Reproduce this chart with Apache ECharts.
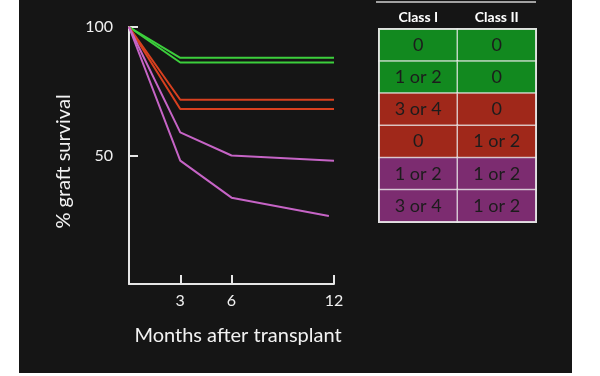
<!DOCTYPE html>
<html>
<head>
<meta charset="utf-8">
<script src="https://cdn.jsdelivr.net/npm/echarts@6/dist/echarts.min.js"></script>
<style>
html,body{margin:0;padding:0;background:#fff;width:600px;height:376px;overflow:hidden;}
#c{position:absolute;left:19px;top:0;width:553px;height:373px;}
</style>
</head>
<body>
<div id="c"></div>
<script>
// ---- data ----
const months = [0, 3, 6, 12];
const greenUpper = [100, 88, 88, 88];
const greenLower = [100, 86.2, 86.2, 86.2];
const redUpper = [100, 71.7, 71.7, 71.7];
const redLower = [100, 68.1, 68.1, 68.1];
const purpleUpper = [100, 59, 50, 48];
const purpleLowerMonths = [0, 3, 6, 11.7];
const purpleLower = [100, 48, 33.6, 26.5];
const xTicks = [3, 6, 12];
const yTicks = [50, 100];

const tableCols = ['Class I', 'Class II'];
const classI = ['0', '1 or 2', '3 or 4', '0', '1 or 2', '3 or 4'];
const classII = ['0', '0', '0', '1 or 2', '1 or 2', '1 or 2'];
const rowGroup = [0, 0, 1, 1, 2, 2]; // 0 green, 1 red, 2 purple

const lineColors = ['#3ccf3c', '#d8401f', '#c664c6'];
const cellColors = ['#12891f', '#a0281a', '#7c2c70'];

function pairs(xs, ys) { return xs.map((x, i) => [x, ys[i]]); }

const lineSeries = [
  [months, greenUpper, 0], [months, greenLower, 0],
  [months, redUpper, 1], [months, redLower, 1],
  [months, purpleUpper, 2], [purpleLowerMonths, purpleLower, 2]
].map(([xs, ys, g]) => ({
  type: 'line', xAxisIndex: 0, yAxisIndex: 0,
  data: pairs(xs, ys), symbol: 'none',
  lineStyle: { color: lineColors[g], width: 2 },
  silent: true, animation: false
}));

const cellData = [];
for (let r = 0; r < classI.length; r++) {
  cellData.push({ value: [0, r, rowGroup[r]], text: classI[r] });
  cellData.push({ value: [1, r, rowGroup[r]], text: classII[r] });
}

const font = 'Lato, "Open Sans", sans-serif';
const chart = echarts.init(document.getElementById('c'));
chart.setOption({
  backgroundColor: '#151515',
  animation: false,
  textStyle: { fontFamily: font },
  grid: [
    { left: 110, right: 238, top: 27, bottom: 89 },
    { left: 360, right: 36, top: 29, bottom: 151 }
  ],
  xAxis: [
    {
      type: 'value', gridIndex: 0, min: 0, max: 12,
      axisLine: { show: true, lineStyle: { color: '#e6e6e6', width: 2 } },
      axisTick: { show: true, inside: true, length: 9, customValues: xTicks, lineStyle: { color: '#e6e6e6', width: 2 } },
      axisLabel: { customValues: xTicks, color: '#f0f0f0', fontSize: 16, margin: 9, fontFamily: font },
      splitLine: { show: false },
      name: 'Months after transplant', nameLocation: 'middle', nameGap: 42,
      nameTextStyle: { color: '#f2f2f2', fontSize: 20, fontFamily: font, padding: [0, 0, 0, 13] }
    },
    {
      type: 'category', gridIndex: 1, position: 'top', data: tableCols,
      axisLine: { show: false }, axisTick: { show: false },
      axisLabel: { color: '#ffffff', fontSize: 14, fontWeight: 'bold', margin: 5, fontFamily: font },
      splitLine: { show: false }
    }
  ],
  yAxis: [
    {
      type: 'value', gridIndex: 0, min: 0, max: 100,
      axisLine: { show: true, lineStyle: { color: '#e6e6e6', width: 2 } },
      axisTick: { show: true, inside: true, length: 9, customValues: yTicks, lineStyle: { color: '#e6e6e6', width: 2 } },
      axisLabel: { customValues: yTicks, color: '#f0f0f0', fontSize: 16, margin: 16, fontFamily: font },
      splitLine: { show: false },
      name: '% graft survival', nameLocation: 'middle', nameGap: 55, nameRotate: 90,
      nameTextStyle: { color: '#f2f2f2', fontSize: 20, fontFamily: font, padding: [0, 12, 0, 0] }
    },
    {
      type: 'category', gridIndex: 1, inverse: true, data: classI.map((_, i) => 'r' + i),
      axisLine: { show: false }, axisTick: { show: false }, axisLabel: { show: false },
      splitLine: { show: false }
    }
  ],
  visualMap: {
    show: false, type: 'piecewise', seriesIndex: 6, dimension: 2,
    pieces: [
      { value: 0, color: cellColors[0] },
      { value: 1, color: cellColors[1] },
      { value: 2, color: cellColors[2] }
    ]
  },
  series: lineSeries.concat([{
    type: 'heatmap', xAxisIndex: 1, yAxisIndex: 1,
    data: cellData,
    itemStyle: { borderColor: 'rgba(235,235,235,0.75)', borderWidth: 1.5 },
    label: {
      show: true, color: '#1c1c1c', fontSize: 18, fontFamily: font,
      formatter: p => p.data.text
    },
    emphasis: { disabled: true },
    silent: true
  }]),
  graphic: [
    {
      type: 'line', shape: { x1: 357, y1: 2, x2: 517, y2: 2 },
      style: { stroke: '#d0d0d0', lineWidth: 1.5 }
    },
    {
      type: 'rect', shape: { x: 360, y: 29, width: 157, height: 193 },
      style: { fill: 'none', stroke: 'rgba(235,235,235,0.8)', lineWidth: 2 }, z: 100
    }
  ]
});
</script>
</body>
</html>
